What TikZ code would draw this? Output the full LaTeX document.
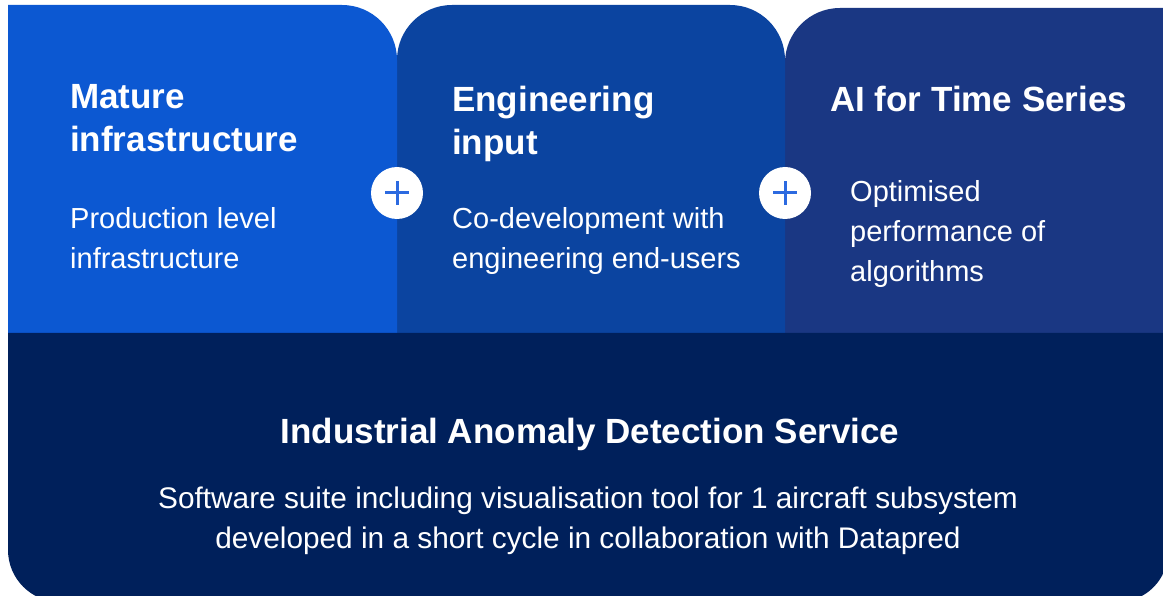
\documentclass[tikz,border=0pt]{standalone}
\usepackage{fontspec}
\setmainfont{Liberation Sans}
\definecolor{tileA}{HTML}{0C58D2}
\definecolor{tileB}{HTML}{0B44A0}
\definecolor{tileC}{HTML}{1A3783}
\definecolor{baseband}{HTML}{00205B}
\definecolor{plusblue}{HTML}{2C6AE0}
\tikzset{
  headline/.style={anchor=base west, inner sep=0pt, text=white, align=left,
    font=\fontsize{35}{43}\selectfont\bfseries},
  bodytext/.style={anchor=base west, inner sep=0pt, text=white, align=left,
    font=\fontsize{29}{40}\selectfont},
  plusdisc/.style={circle, fill=white, minimum size=52pt, inner sep=0pt},
}
\begin{document}
\begin{tikzpicture}[x=1pt,y=-1pt]
\useasboundingbox (0,0) rectangle (1163,596);
\fill[white] (0,0) rectangle (1163,596);
\begin{scope}
\clip (0,0) rectangle (1163,596);
% three upper tiles (y grows downward: 270 = up, 90 = down)
\fill[tileC] (785,333) -- (785,63) arc[start angle=180, end angle=270, radius=55]
  -- (1180,8) -- (1180,333) -- cycle;
\fill[tileB] (397,333) -- (397,60) arc[start angle=180, end angle=270, radius=55]
  -- (730,5) arc[start angle=270, end angle=360, radius=55] -- (785,333) -- cycle;
\fill[tileA] (8,333) -- (8,5) -- (342,5) arc[start angle=270, end angle=360, radius=55]
  -- (397,333) -- cycle;
% lower band
\fill[baseband] (8,333) -- (8,550) arc[start angle=180, end angle=90, radius=52]
  -- (1118,602) arc[start angle=90, end angle=0, radius=50] -- (1168,333) -- cycle;
\end{scope}

% tile texts (anchored on the baseline of the last line)
\node[headline] (t1) at (70,152) {Mature\\infrastructure};
\node[bodytext] (b1) at (70,269) {Production level\\infrastructure};
\node[headline] (t2) at (452,155) {Engineering\\input};
\node[bodytext] (b2) at (452,269) {Co-development with\\engineering end-users};
\node[headline] (t3) at (830,112) {AI for Time Series};
\node[bodytext] (b3) at (850,282) {Optimised\\performance of\\algorithms};

% plus markers between tiles
\foreach \name/\px in {p1/397, p2/785}{
  \node[plusdisc] (\name) at (\px,193) {};
  \draw[plusblue, line width=3pt] ([xshift=-12pt]\name.center) -- ([xshift=12pt]\name.center);
  \draw[plusblue, line width=3pt] ([yshift=-12pt]\name.center) -- ([yshift=12pt]\name.center);
}

% lower band texts
\node[anchor=base, inner sep=0pt, text=white, font=\fontsize{35}{43}\selectfont\bfseries]
  (svc) at (590,443) {Industrial Anomaly Detection Service};
\node[anchor=base, inner sep=0pt, text=white, align=center, font=\fontsize{29.8}{40}\selectfont]
  (desc) at (588,548) {Software suite including visualisation tool for 1 aircraft subsystem\\developed in a short cycle in collaboration with Datapred};
\end{tikzpicture}
\end{document}
